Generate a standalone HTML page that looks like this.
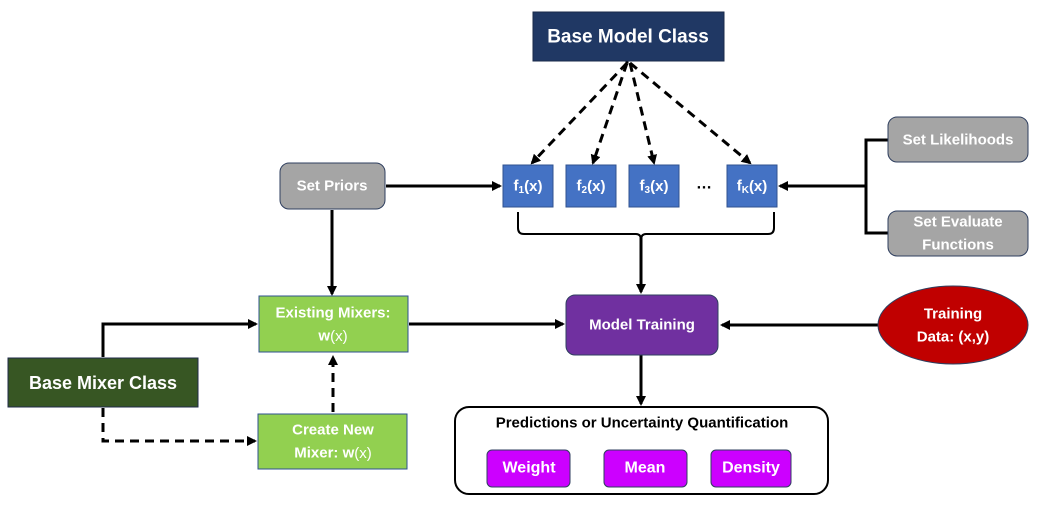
<!DOCTYPE html>
<html><head><meta charset="utf-8"><style>
body{margin:0;background:#fff;}
svg{display:block;font-family:"Liberation Sans",sans-serif;font-weight:bold;}
text{text-anchor:middle;dominant-baseline:central;}
</style></head><body>
<svg width="1039" height="509" viewBox="0 0 1039 509" xmlns="http://www.w3.org/2000/svg">
<defs>
<marker id="a" markerWidth="10" markerHeight="10" refX="8" refY="5" orient="auto" markerUnits="userSpaceOnUse"><path d="M0,0 L10,5 L0,10 z" fill="#000"/></marker>
</defs>
<g stroke="#000" stroke-width="3" fill="none">
<!-- dashed from base model -->
<g stroke-dasharray="9,6">
<line x1="627" y1="63" x2="532" y2="163" marker-end="url(#a)"/>
<line x1="627" y1="63" x2="593" y2="163" marker-end="url(#a)"/>
<line x1="630" y1="63" x2="654" y2="163" marker-end="url(#a)"/>
<line x1="630" y1="63" x2="750" y2="163" marker-end="url(#a)"/>
<line x1="627" y1="63" x2="627" y2="56" />
<line x1="333" y1="412" x2="333" y2="357" marker-end="url(#a)"/>
<polyline points="103,408 103,441 255,441" marker-end="url(#a)"/>
</g>
<line x1="386" y1="186" x2="500" y2="186" marker-end="url(#a)"/>
<line x1="332" y1="210" x2="332" y2="294" marker-end="url(#a)"/>
<polyline points="103,357 103,324 256,324" marker-end="url(#a)"/>
<line x1="409" y1="324" x2="563" y2="324" marker-end="url(#a)"/>
<line x1="878" y1="325" x2="722" y2="325" marker-end="url(#a)"/>
<line x1="641" y1="355" x2="641" y2="404" marker-end="url(#a)"/>
<polyline points="888,140 866,140 866,233 888,233"/>
<line x1="866" y1="186" x2="780" y2="186" marker-end="url(#a)"/>
<line x1="641" y1="236" x2="641" y2="292" marker-end="url(#a)"/>
</g>
<path d="M518,212 L518,228 Q518,234 524,234 L636,234 Q641,234 641,240 Q641,234 646,234 L768,234 Q774,234 774,228 L774,212" stroke="#000" stroke-width="2" fill="none"/>
<!-- base model -->
<rect x="533" y="12" width="191" height="49" fill="#203864" stroke="#1a2a4a"/>
<text x="628" y="37" fill="#fff" font-size="19">Base Model Class</text>
<!-- f boxes -->
<g fill="#4472c4" stroke="#2f528f">
<rect x="503" y="165" width="50" height="42"/><rect x="566" y="165" width="50" height="42"/>
<rect x="629" y="165" width="50" height="42"/><rect x="727" y="165" width="50" height="42"/>
</g>
<g fill="#fff" font-size="15">
<text x="528" y="186">f<tspan font-size="10" dy="4">1</tspan><tspan dy="-4">(x)</tspan></text>
<text x="591" y="186">f<tspan font-size="10" dy="4">2</tspan><tspan dy="-4">(x)</tspan></text>
<text x="654" y="186">f<tspan font-size="10" dy="4">3</tspan><tspan dy="-4">(x)</tspan></text>
<text x="752" y="186">f<tspan font-size="10" dy="4">K</tspan><tspan dy="-4">(x)</tspan></text>
</g>
<text x="704" y="184" font-size="16" fill="#000">…</text>
<!-- set priors -->
<rect x="280" y="163" width="105" height="46" rx="9" fill="#a5a5a5" stroke="#2f3f5f"/>
<text x="332" y="186" fill="#fff" font-size="15">Set Priors</text>
<rect x="888" y="117" width="140" height="45" rx="9" fill="#a5a5a5" stroke="#2f3f5f"/>
<text x="958" y="140" fill="#fff" font-size="15">Set Likelihoods</text>
<rect x="888" y="211" width="140" height="45" rx="9" fill="#a5a5a5" stroke="#2f3f5f"/>
<text x="958" y="222" fill="#fff" font-size="15">Set Evaluate</text>
<text x="958" y="245" fill="#fff" font-size="15">Functions</text>
<!-- mixers -->
<rect x="259" y="296" width="149" height="56" fill="#92d050" stroke="#2f528f"/>
<text x="333" y="313" fill="#fff" font-size="15">Existing Mixers:</text>
<text x="333" y="336" fill="#fff" font-size="15">w<tspan font-weight="normal">(x)</tspan></text>
<rect x="258" y="414" width="149" height="55" fill="#92d050" stroke="#2f528f"/>
<text x="333" y="430" fill="#fff" font-size="15">Create New</text>
<text x="333" y="453" fill="#fff" font-size="15">Mixer: w<tspan font-weight="normal">(x)</tspan></text>
<rect x="8" y="358" width="190" height="49" fill="#375623" stroke="#1f2a4a"/>
<text x="103" y="383" fill="#fff" font-size="18">Base Mixer Class</text>
<!-- model training -->
<rect x="566" y="295" width="152" height="60" rx="9" fill="#7030a0" stroke="#2f3f5f"/>
<text x="642" y="325" fill="#fff" font-size="15">Model Training</text>
<ellipse cx="953" cy="325" rx="75" ry="39" fill="#c00000" stroke="#2f3f5f"/>
<text x="953" y="314" fill="#fff" font-size="15">Training</text>
<text x="953" y="337" fill="#fff" font-size="15">Data: (x,y)</text>
<!-- predictions -->
<rect x="455" y="407" width="373" height="87" rx="14" fill="#fff" stroke="#000" stroke-width="2"/>
<text x="642" y="423" fill="#000" font-size="15">Predictions or Uncertainty Quantification</text>
<g fill="#cc00ff" stroke="#2f3f5f">
<rect x="487" y="450" width="83" height="37" rx="5"/>
<rect x="604" y="450" width="83" height="37" rx="5"/>
<rect x="711" y="450" width="80" height="37" rx="5"/>
</g>
<g fill="#fff" font-size="16">
<text x="529" y="468">Weight</text><text x="645" y="468">Mean</text><text x="751" y="468">Density</text>
</g>
</svg>
</body></html>
